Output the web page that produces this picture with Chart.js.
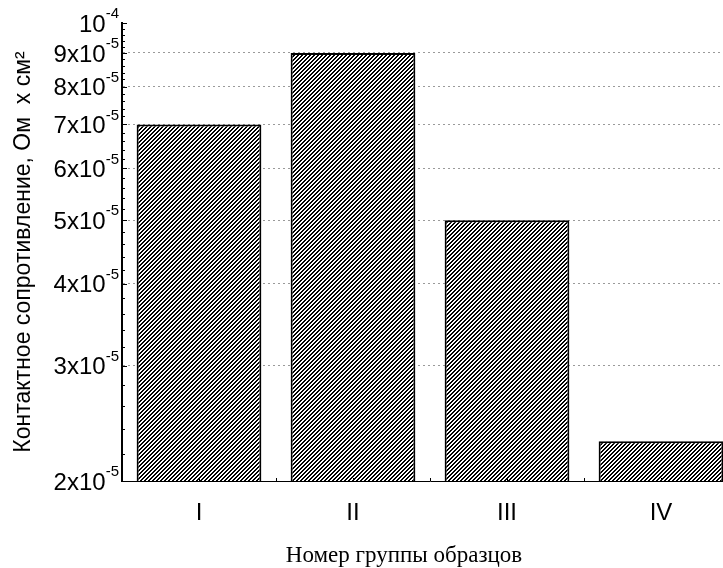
<!DOCTYPE html>
<html>
<head>
<meta charset="utf-8">
<script src="https://cdn.jsdelivr.net/npm/chart.js@4/dist/chart.umd.min.js"></script>
<style>
  html, body { margin: 0; padding: 0; background: #fff; overflow: hidden; }
  #wrap { position: absolute; left: 0; top: 0; width: 740px; height: 568px; }
</style>
</head>
<body>
<div id="wrap"><canvas id="chart" width="740" height="568"></canvas></div>
<script>
const groups = ["I", "II", "III", "IV"];
const resistance = [7e-5, 9e-5, 5e-5, 2.3e-5];
const tickValues = [2e-5, 3e-5, 4e-5, 5e-5, 6e-5, 7e-5, 8e-5, 9e-5, 1e-4];
const tickBase = ["2x10", "3x10", "4x10", "5x10", "6x10", "7x10", "8x10", "9x10", "10"];
const tickExp = ["-5", "-5", "-5", "-5", "-5", "-5", "-5", "-5", "-4"];
const xTitle = "Номер группы образцов";

// diagonal hatch "////"
function makeHatch() {
  const c = document.createElement("canvas");
  c.width = 4; c.height = 4;
  const g = c.getContext("2d");
  const img = g.createImageData(4, 4);
  for (let y = 0; y < 4; y++) {
    for (let x = 0; x < 4; x++) {
      const i = (y * 4 + x) * 4;
      const on = (x + y) % 4 < 2;
      img.data[i] = img.data[i + 1] = img.data[i + 2] = on ? 0 : 255;
      img.data[i + 3] = 255;
    }
  }
  g.putImageData(img, 0, 0);
  return g.createPattern(c, "repeat");
}

const ctx = document.getElementById("chart").getContext("2d");

const axisExtras = {
  id: "axisExtras",
  afterDraw(chart) {
    const c = chart.ctx;
    const y = chart.scales.y;
    const x = chart.scales.x;
    const left = chart.chartArea.left;
    const bottom = chart.chartArea.bottom;
    c.save();
    c.fillStyle = "#000";
    c.strokeStyle = "#000";
    c.lineWidth = 1;
    // minor ticks on y axis
    for (let i = 0; i < tickValues.length - 1; i++) {
      const a = tickValues[i], b = tickValues[i + 1];
      const step = (b - a) / 5;
      for (let k = 0; k <= 5; k++) {
        const py = Math.round(y.getPixelForValue(a + step * k)) + 0.5;
        const len = k === 0 || k === 5 ? 5 : 3;
        c.beginPath();
        c.moveTo(left, py);
        c.lineTo(left + len, py);
        c.stroke();
      }
    }
    // small ticks on x axis
    for (let i = 0; i < groups.length; i++) {
      const px = x.getPixelForValue(i);
      const half = (x.getPixelForValue(1) - x.getPixelForValue(0)) / 2;
      [px - half, px].forEach((p) => {
        c.beginPath();
        c.moveTo(Math.round(p) + 0.5, bottom);
        c.lineTo(Math.round(p) + 0.5, bottom - 3);
        c.stroke();
      });
    }
    // tick labels with exponent
    c.textBaseline = "middle";
    c.textAlign = "right";
    tickValues.forEach((v, i) => {
      const py = y.getPixelForValue(v);
      c.font = "15px 'Liberation Sans', Arial, sans-serif";
      const ew = c.measureText(tickExp[i]).width;
      c.fillText(tickExp[i], 119, py - 9);
      c.font = "24px 'Liberation Sans', Arial, sans-serif";
      c.fillText(tickBase[i], 119 - ew, py + 2);
    });
    // x axis title
    c.textAlign = "center";
    c.font = "23px 'Liberation Serif', 'Times New Roman', serif";
    c.fillText(xTitle, 404, 556);
    c.restore();
  },
};

new Chart(ctx, {
  type: "bar",
  data: {
    labels: groups,
    datasets: [
      {
        data: resistance,
        backgroundColor: makeHatch(),
        borderColor: "#000",
        borderWidth: 2,
        categoryPercentage: 1,
        barPercentage: 0.81,
      },
    ],
  },
  options: {
    responsive: false,
    animation: false,
    layout: { padding: { top: 23, right: 2, left: 0, bottom: 0 } },
    plugins: { legend: { display: false }, tooltip: { enabled: false } },
    scales: {
      x: {
        grid: { display: false, drawTicks: false },
        border: { color: "#000", width: 1 },
        ticks: {
          color: "#000",
          padding: 18,
          font: { family: "'Liberation Sans', Arial, sans-serif", size: 24 },
        },
        afterFit(scale) { scale.height = 87; },
      },
      y: {
        type: "logarithmic",
        min: 2e-5,
        max: 1e-4,
        afterBuildTicks(scale) {
          scale.ticks = tickValues.map((v) => ({ value: v }));
        },
        afterFit(scale) { scale.width = 122; },
        grid: {
          drawTicks: false,
          color: (c) => (c.tick && (c.tick.value === 2e-5 || c.tick.value === 1e-4) ? "rgba(0,0,0,0)" : "#9a9a9a"),
          lineWidth: 1,
        },
        border: { color: "#000", width: 2, dash: [2, 3] },
        ticks: { display: false },
        title: {
          display: true,
          text: "Контактное сопротивление, Ом  x см²",
          color: "#000",
          font: { family: "'Liberation Sans', Arial, sans-serif", size: 23 },
          padding: { top: 10, bottom: 0 },
        },
      },
    },
  },
  plugins: [axisExtras],
});
</script>
</body>
</html>
